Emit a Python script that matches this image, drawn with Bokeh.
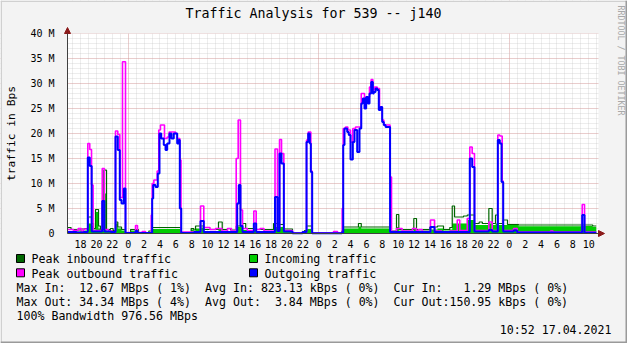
import math
import re
from bokeh.plotting import figure
from bokeh.models import Range1d, FixedTicker
from bokeh.core.properties import value
from bokeh.embed import file_html
from bokeh.resources import INLINE

# ---------------- data (hours relative to 00:00 of the middle day, values in M Bps) -------------
TITLE = "Traffic Analysis for 539 -- j140"
Y_LABEL = "traffic in Bps"
WATERMARK = "RRDTOOL / TOBI OETIKER"
TIMESTAMP = "10:52 17.04.2021"
LEGEND_NAMES = ["Peak inbound traffic", "Incoming traffic", "Peak outbound traffic", "Outgoing traffic"]
LEGEND_COLORS = ["#006600", "#00CC00", "#FF00FF", "#0000FF"]
STATS = [
    "Max In:  12.67 MBps ( 1%)  Avg In: 823.13 kBps ( 0%)  Cur In:   1.29 MBps ( 0%)",
    "Max Out: 34.34 MBps ( 4%)  Avg Out:  3.84 MBps ( 0%)  Cur Out:150.95 kBps ( 0%)",
    "100% Bandwidth 976.56 MBps",
]
Y_TICKS = [0, 5, 10, 15, 20, 25, 30, 35, 40]
Y_TICK_LABELS = ["0", "5 M", "10 M", "15 M", "20 M", "25 M", "30 M", "35 M", "40 M"]
X_TICKS = list(range(-6, 59, 2))
X_MIDNIGHTS = [0, 24, 48]
X_START, X_END = -7.645, 59.23
Y_MAX = 40
DATA_END = 58.95

# outgoing (average), step starts (hour, value)
OUT = [(-7.64, 0.3), (-6.5, 0.2), (-5.6, 0.3),
       (-5.09, 15.2), (-4.84, 13.5), (-4.6, 0.4),
       (-3.27, 6.5), (-3.0, 0.4), (-2.2, 0.3),
       (-1.60, 19.4), (-1.31, 16.7), (-1.06, 6.7), (-0.84, 6.0), (-0.55, 9.0), (-0.34, 0.1),
       (0.92, 0.5), (1.17, 0.1),
       (3.02, 7.0), (3.15, 9.7), (3.44, 9.3), (3.73, 12.0), (3.94, 20.0), (4.16, 19.0), (4.48, 17.7),
       (4.70, 16.7), (4.91, 18.0), (5.20, 20.0), (5.45, 19.0), (5.74, 20.0), (6.17, 18.0), (6.37, 18.7),
       (6.50, 5.0), (6.68, 0.1),
       (8.3, 0.3), (9.11, 2.5), (9.52, 0.3),
       (13.73, 6.0), (13.93, 9.7), (14.14, 1.5), (14.4, 0.3),
       (15.82, 2.0), (16.12, 0.3),
       (18.49, 7.3), (18.80, 0.5), (19.06, 16.0), (19.31, 14.0), (19.60, 0.4),
       (20.69, 0.05), (21.95, 0.3),
       (22.46, 18.3), (22.67, 20.0), (22.87, 18.0), (23.0, 12.3), (23.17, 0.05),
       (26.9, 0.2),
       (27.08, 17.7), (27.24, 21.0), (27.58, 20.3), (27.78, 19.7), (28.00, 14.8), (28.29, 18.3),
       (28.50, 20.7), (28.84, 16.3), (29.13, 21.0), (29.35, 26.0), (29.55, 27.0), (29.76, 25.0),
       (29.97, 27.3), (30.18, 26.0), (30.39, 28.0), (30.60, 30.3), (30.81, 28.0), (30.93, 28.3),
       (31.15, 29.0), (31.36, 28.7), (31.56, 24.7), (31.78, 25.3), (31.99, 22.3), (32.19, 21.7),
       (32.41, 21.3), (32.98, 0.3),
       (38.07, 1.3), (38.58, 0.3),
       (43.02, 15.0), (43.32, 13.3), (43.61, 0.4),
       (45.42, 0.7), (45.84, 0.4),
       (46.55, 18.7), (46.80, 18.0), (47.02, 10.3), (47.23, 0.4),
       (48.53, 0.6), (48.99, 0.2),
       (57.18, 3.7), (57.47, 0.15)]

# peak outgoing
PEAK_OUT = [(-7.64, 0.8), (-6.9, 0.6), (-6.3, 1.0), (-5.9, 0.5), (-5.6, 0.9),
            (-5.09, 18.0), (-4.84, 16.8), (-4.62, 9.7), (-4.42, 0.6),
            (-3.27, 13.0), (-3.0, 0.8), (-2.5, 0.5), (-2.0, 0.3),
            (-1.60, 20.5), (-1.31, 19.8), (-1.06, 7.2), (-0.72, 34.34), (-0.34, 0.2),
            (0.3, 0.1), (0.92, 1.6), (1.17, 0.2), (1.76, 0.4), (2.18, 0.1),
            (2.90, 3.7), (3.02, 10.0), (3.23, 10.7), (3.65, 12.5), (3.85, 20.7), (4.06, 21.7),
            (4.57, 19.0), (4.91, 19.3), (5.15, 20.3), (5.96, 20.0), (6.17, 19.0), (6.50, 14.7), (6.65, 0.3),
            (9.11, 5.5), (9.52, 1.2), (10.3, 0.8), (11.0, 1.0), (11.8, 0.5), (12.5, 1.0), (13.0, 0.5),
            (13.60, 15.0), (13.85, 22.7), (14.14, 4.7), (14.40, 1.0), (15.0, 0.6),
            (15.82, 4.5), (16.12, 0.8), (16.6, 1.0), (17.1, 0.5),
            (18.49, 16.9), (18.80, 1.0), (19.06, 18.8), (19.31, 16.0), (19.60, 0.6),
            (20.69, 0.1), (21.95, 0.3),
            (22.46, 18.7), (22.67, 20.3), (23.0, 12.5), (23.17, 0.1),
            (25.86, 0.4), (26.36, 0.1),
            (26.95, 5.0), (27.08, 21.0), (27.37, 21.3), (27.66, 20.7), (28.00, 18.3), (28.29, 21.0),
            (28.63, 21.3), (29.35, 28.0), (29.76, 26.7), (29.97, 27.3), (30.39, 29.3), (30.60, 30.8),
            (30.81, 28.7), (31.02, 29.3), (31.36, 29.0), (31.65, 25.3), (31.99, 22.7), (32.19, 21.7),
            (32.98, 11.3), (33.16, 0.4),
            (33.79, 1.0), (34.5, 0.5), (35.8, 1.0), (36.3, 0.5), (36.56, 0.8), (37.03, 0.4),
            (38.07, 2.7), (38.58, 0.5), (39.5, 0.3), (40.5, 0.5),
            (41.44, 2.7), (41.76, 0.6), (42.70, 3.0), (43.02, 17.3), (43.32, 16.0), (43.61, 0.6),
            (45.42, 2.3), (45.84, 0.6),
            (46.55, 19.7), (46.80, 19.5), (47.10, 10.5), (47.23, 0.6),
            (48.53, 1.0), (48.99, 0.3), (53.19, 0.5), (53.5, 0.3),
            (57.18, 5.8), (57.47, 0.3)]

# incoming (average)
IN = [(-7.64, 0.5), (-6.8, 0.4), (-6.0, 0.5), (-5.5, 0.6),
      (-5.09, 2.0), (-4.62, 1.5), (-4.37, 0.8), (-4.12, 4.3), (-3.74, 1.0), (-3.5, 0.5),
      (-3.07, 8.0), (-2.73, 0.5), (-2.23, 0.7), (-1.9, 0.4),
      (-1.60, 2.0), (-1.31, 1.0), (-0.84, 0.6), (-0.34, 0.1),
      (0.3, 0.6), (1.3, 0.1),
      (2.6, 0.3), (3.02, 0.9), (6.68, 0.1),
      (7.93, 0.8), (8.26, 0.5), (8.48, 1.0), (9.11, 1.2), (9.52, 0.5),
      (11.37, 1.0), (11.84, 0.5),
      (13.6, 1.3), (14.4, 0.7), (15.82, 1.2), (16.12, 0.4),
      (18.3, 1.3), (19.60, 0.4), (20.69, 0.05), (22.2, 0.4), (22.46, 0.9), (23.17, 0.05),
      (26.9, 0.3), (27.08, 1.0), (29.0, 1.4), (29.35, 1.0), (33.07, 0.3),
      (33.79, 1.3), (34.08, 0.6), (35.97, 0.9), (36.31, 0.6), (38.0, 0.8), (38.95, 1.0), (39.71, 0.6),
      (40.5, 0.8), (40.81, 2.0), (42.70, 2.7), (43.61, 1.7), (45.42, 2.0), (45.84, 1.7),
      (46.26, 2.0), (46.55, 1.7), (47.23, 1.7), (49.16, 1.45), (57.0, 1.5), (58.5, 1.3)]

# peak incoming
PEAK_IN = [(-7.64, 1.2), (-7.2, 0.8), (-6.5, 0.7), (-5.9, 0.9), (-5.5, 1.0),
           (-5.09, 3.3), (-4.62, 2.0), (-4.37, 1.0), (-4.12, 4.8), (-3.74, 1.5), (-3.5, 0.8),
           (-3.07, 12.67), (-2.73, 0.8), (-2.23, 1.0), (-1.9, 0.6),
           (-1.60, 2.3), (-1.31, 1.3), (-0.84, 0.8), (-0.34, 0.2),
           (0.3, 0.8), (1.3, 0.2),
           (2.6, 0.5), (3.02, 1.2), (6.68, 0.2),
           (7.93, 1.0), (8.26, 0.7), (8.48, 1.5), (9.11, 1.5), (9.52, 0.8),
           (11.37, 2.3), (11.84, 0.8), (12.51, 1.0), (12.88, 0.7),
           (13.6, 1.5), (14.4, 2.0), (14.8, 1.0), (15.82, 1.5), (16.12, 0.8),
           (18.3, 2.0), (19.0, 1.8), (19.60, 0.9), (20.69, 0.1), (22.2, 0.6), (22.46, 1.5), (23.17, 0.1),
           (26.9, 0.5), (27.08, 1.3), (29.0, 2.0), (29.35, 1.3), (33.07, 0.5),
           (33.79, 3.8), (34.08, 0.8), (35.97, 3.0), (36.31, 0.8), (38.0, 1.3), (38.95, 1.5), (39.71, 0.8),
           (40.5, 1.2), (40.81, 5.5), (41.10, 3.3), (42.23, 3.5), (42.70, 3.7), (43.61, 2.0),
           (44.2, 2.3), (44.6, 2.0), (45.42, 5.0), (45.84, 2.0), (46.26, 3.7), (46.55, 2.0),
           (47.23, 2.7), (47.77, 1.8), (49.16, 1.7), (58.5, 1.5)]

# ---------------- layout (pixels of the 627x343 canvas) -------------------------------------------
W, H = 627, 343
FONT = "DejaVu Sans Mono"
BG = "#F3F3F3"
PLOT_L, PLOT_R, PLOT_T, PLOT_B = 67, 598, 33, 233


def X(px):
    """canvas pixel column -> data x (hours)"""
    return X_START + (px - PLOT_L) * (X_END - X_START) / (PLOT_R - PLOT_L)


def Y(py):
    """canvas pixel row -> data y (M)"""
    return (PLOT_B - py) * Y_MAX / (PLOT_B - PLOT_T)


def steps(pairs):
    t = [a for a, _ in pairs] + [DATA_END]
    v = [b for _, b in pairs] + [pairs[-1][1]]
    return t, v


# the frame covers the whole canvas; axes are pinned at the plot-area edges
p = figure(width=W, height=H, x_range=Range1d(X(0), X(W)), y_range=Range1d(Y(H), Y(0)),
           output_backend="svg", toolbar_location=None, min_border=0)
p.background_fill_color = "#FFFFFF"
p.border_fill_color = BG
p.outline_line_color = None

# grids
p.ygrid.ticker = FixedTicker(ticks=Y_TICKS, minor_ticks=list(range(0, 41)))
p.xgrid.ticker = FixedTicker(ticks=X_MIDNIGHTS, minor_ticks=list(range(-7, 60)))
for g in (p.xgrid, p.ygrid):
    g.grid_line_color = "#E07070"
    g.grid_line_alpha = 0.5
    g.grid_line_dash = "1 1"
    g.minor_grid_line_color = "#BDBDBD"
    g.minor_grid_line_alpha = 0.55
    g.minor_grid_line_dash = "1 1"

# grey surroundings of the plot area (hide grid outside it)
p.quad(left=[X(0), X(PLOT_R), X(0), X(0)], right=[X(PLOT_L), X(W), X(W), X(W)],
       bottom=[Y(H), Y(H), Y(PLOT_T), Y(H)], top=[Y(0), Y(0), Y(0), Y(PLOT_B)],
       fill_color=BG, line_color=None)

# axes
p.xaxis.fixed_location = 0
p.xaxis.bounds = (X_START, X_END)
p.yaxis.fixed_location = X_START
p.yaxis.bounds = (0, Y_MAX)
p.xaxis.ticker = FixedTicker(ticks=X_TICKS)
p.xaxis.major_label_overrides = {t: str(t % 24) for t in X_TICKS}
p.yaxis.ticker = FixedTicker(ticks=Y_TICKS)
p.yaxis.major_label_overrides = dict(zip(Y_TICKS, Y_TICK_LABELS))
for ax in (p.xaxis, p.yaxis):
    ax.axis_line_color = "#404040"
    ax.major_tick_line_color = None
    ax.minor_tick_line_color = None
    ax.major_label_text_font = FONT
    ax.major_label_text_font_size = "10px"
    ax.major_label_text_color = "#000000"
p.xaxis.major_label_standoff = 0
p.yaxis.major_label_standoff = 7

# data
t, v = steps(IN)
p.varea_step(x=t, y1=[0] * len(t), y2=v, step_mode="after", fill_color=LEGEND_COLORS[1])
t, v = steps(PEAK_IN)
p.step(x=t, y=v, mode="after", line_color=LEGEND_COLORS[0], line_width=1.2)
t, v = steps(PEAK_OUT)
p.step(x=t, y=v, mode="after", line_color=LEGEND_COLORS[2], line_width=1.6)
t, v = steps(OUT)
p.step(x=t, y=v, mode="after", line_color=LEGEND_COLORS[3], line_width=2)

# axis arrow heads
ARROW_RED = "#8B1A1A"
p.patches(xs=[[X(64), X(70), X(67)], [X(598), X(598), X(604)]],
          ys=[[Y(33), Y(33), Y(27)], [Y(230), Y(236), Y(233)]],
          fill_color=ARROW_RED, line_color=ARROW_RED)


def text(items, size, align="left", baseline="alphabetic", angle=0.0, color="#000000"):
    p.text(x=[X(a) for a, _, _ in items], y=[Y(b) for _, b, _ in items], text=[s for _, _, s in items],
           text_font=value(FONT), text_font_size=value(size), text_align=align,
           text_baseline=baseline, angle=angle, text_color=color)


text([(313, 13, TITLE)], "13.3px", align="center")
text([(11, 133, Y_LABEL)], "11.3px", align="center", baseline="middle", angle=math.pi / 2)
text([(620, 60, WATERMARK)], "8.3px", align="center", baseline="middle", angle=-math.pi / 2,
     color="#A8A8A8")

LEG_SIZE = "11.6px"
CW = 0.602 * 11.6
rows_y = [258.7, 273.0]
sq_l, sq_r, sq_t, sq_b, leg_items = [], [], [], [], []
for i, name in enumerate(LEGEND_NAMES):
    r, c = divmod(i, 2)
    bx = 16 + c * 233
    yb = rows_y[r]
    sq_l.append(X(bx)); sq_r.append(X(bx + 8)); sq_t.append(Y(yb - 4.7)); sq_b.append(Y(yb + 3.3))
    leg_items.append((bx + 15, yb, name))
p.quad(left=sq_l, right=sq_r, top=sq_t, bottom=sq_b, fill_color=LEGEND_COLORS, line_color="#000000")
text(leg_items, LEG_SIZE)

stat_items = []
for s, yb in zip(STATS, [287.1, 301.3, 315.0]):
    for m in re.finditer(r"\S+(?: \S+)*", s):
        stat_items.append((16 + m.start() * CW, yb, m.group(0)))
text(stat_items, LEG_SIZE)
text([(611, 329.1, TIMESTAMP)], LEG_SIZE, align="right")

# image border (light top/left, dark bottom/right)
p.quad(left=[X(0), X(0), X(W - 2), X(0)], right=[X(W), X(1.5), X(W), X(W)],
       top=[Y(0), Y(0), Y(0), Y(H - 2)], bottom=[Y(1.5), Y(H), Y(H), Y(H)],
       fill_color=["#D0D0D0", "#D0D0D0", "#9A9A9A", "#9A9A9A"], line_color=None)

open("out.html", "w").write(file_html(p, INLINE))
